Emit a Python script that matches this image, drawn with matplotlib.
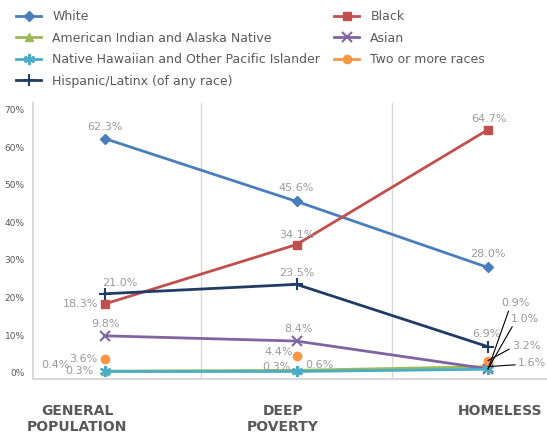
import matplotlib
matplotlib.use("Agg")
import matplotlib.pyplot as plt
from matplotlib.lines import Line2D
from matplotlib.transforms import blended_transform_factory

categories = ["GENERAL\nPOPULATION", "DEEP\nPOVERTY", "HOMELESS"]
white = [62.3, 45.6, 28.0]
black = [18.3, 34.1, 64.7]
aian = [0.4, 0.6, 1.6]
asian = [9.8, 8.4, 1.0]
nhpi = [0.3, 0.3, 0.9]
two_more = [3.6, 4.4, 3.2]
hispanic = [21.0, 23.5, 6.9]
y_ticks = [0, 10, 20, 30, 40, 50, 60, 70]

names = {
    "white": "White", "black": "Black", "aian": "American Indian and Alaska Native",
    "asian": "Asian", "nhpi": "Native Hawaiian and Other Pacific Islander",
    "two": "Two or more races", "hisp": "Hispanic/Latinx (of any race)",
}
data = {"white": white, "black": black, "aian": aian, "asian": asian,
        "nhpi": nhpi, "two": two_more, "hisp": hispanic}
styles = {
    "white": dict(color="#4A7EBB", marker="D", ms=5, ls="-"),
    "black": dict(color="#C0504D", marker="s", ms=6, ls="-"),
    "aian": dict(color="#9BBB59", marker="^", ms=6, ls="-"),
    "asian": dict(color="#8064A2", marker="x", ms=7, mew=1.5, ls="-"),
    "nhpi": dict(color="#4BACC6", marker=(6, 2, 0), ms=8, mew=1.5, ls="-"),
    "two": dict(color="#F79646", marker="o", ms=6, ls="none"),
    "hisp": dict(color="#1F3B66", marker="+", ms=9, mew=1.5, ls="-"),
}
order = ["white", "black", "aian", "asian", "nhpi", "two", "hisp"]

fig = plt.figure(figsize=(5.47, 4.38), dpi=100)
ax = fig.add_axes([33 / 547, (438 - 379) / 438, 1 - 33 / 547, (379 - 103) / 438])
x = list(range(len(categories)))
for k in order:
    ax.plot(x, data[k], lw=2, zorder=3, clip_on=False, **styles[k])

ax.set_xlim(-72 / 191.5, (547 - 105) / 191.5)
ax.set_ylim(-1.7, 71.8)
ax.set_yticks(y_ticks)
ax.set_yticklabels([f"{t}%" for t in y_ticks], family=["Liberation Sans Narrow", "DejaVu Sans"],
                   fontsize=6.5, color="#595959")
ax.tick_params(axis="y", length=0, pad=6)
ax.set_xticks([])
for s in ["top", "right"]:
    ax.spines[s].set_visible(False)
for s in ["left", "bottom"]:
    ax.spines[s].set_color("#D9D9D9")
    ax.spines[s].set_linewidth(1.5)
for gx in [0.5, 1.5]:
    ax.axvline(gx, color="#D9D9D9", lw=1, zorder=1)

# category labels
trans = blended_transform_factory(ax.transData, fig.transFigure)
cat_offsets = [-0.145, -0.07, 0.065]
for i, c in enumerate(categories):
    ax.text(i + cat_offsets[i], 1 - 404 / 438, c, transform=trans, ha="center", va="top",
            fontsize=10, fontweight="bold", color="#595959", linespacing=1.2)

lab_col = "#999999"
lab_fs = 8
# (series, index, dx px, dy px, ha)
label_pos = [
    ("white", 0, 0, 12, "center"), ("white", 1, 0, 13, "center"), ("white", 2, 0, 13, "center"),
    ("black", 0, -7, 0, "right"), ("black", 1, 0, 10, "center"), ("black", 2, 1, 11, "center"),
    ("hisp", 0, 15, 11, "center"), ("hisp", 1, 0, 11, "center"), ("hisp", 2, -2, 13, "center"),
    ("asian", 0, 0, 12, "center"), ("asian", 1, 2, 12, "center"),
    ("two", 0, -8, 0, "right"), ("two", 1, -4, 4, "right"),
    ("aian", 0, -35, 6, "right"), ("nhpi", 0, -12, 0, "right"),
    ("nhpi", 1, -6, 4, "right"), ("aian", 1, 9, 5, "left"),
]
for k, i, dx, dy, ha in label_pos:
    ax.annotate(f"{data[k][i]:.1f}%", (x[i], data[k][i]), xytext=(dx, dy),
                textcoords="offset pixels", ha=ha, va="center", fontsize=lab_fs,
                color=lab_col, zorder=5)

# leader labels at homeless
leaders = [("nhpi", 2, 13, 66, (0.3, 0)), ("asian", 2, 23, 50, (0.1, 0)),
           ("two", 2, 24, 15, (0, 0.3)), ("aian", 2, 30, 4, (0, 0.3))]
for k, i, dx, dy, rp in leaders:
    ax.annotate(f"{data[k][i]:.1f}%", (x[i], data[k][i]), xytext=(dx, dy),
                textcoords="offset pixels", ha="left", va="center", fontsize=lab_fs,
                color=lab_col, zorder=5, annotation_clip=False,
                arrowprops=dict(arrowstyle="-", color="black", lw=0.8, relpos=rp,
                                shrinkA=0, shrinkB=0))

leg_order = ["white", "aian", "nhpi", "hisp", "black", "asian", "two"]
handles = []
for k in leg_order:
    st = dict(styles[k])
    st["ls"] = "-"
    handles.append(Line2D([0], [0], lw=2, **st))
leg = fig.legend(handles, [names[k] for k in leg_order], ncol=2, loc="upper left",
                 bbox_to_anchor=(10 / 547, 1 - 4 / 438), bbox_transform=fig.transFigure,
                 frameon=False, fontsize=9, borderpad=0, handlelength=2.0,
                 handletextpad=0.9, labelspacing=0.68, columnspacing=1.1)
for t in leg.get_texts():
    t.set_color("#595959")

fig.savefig("out.png", dpi=100)
